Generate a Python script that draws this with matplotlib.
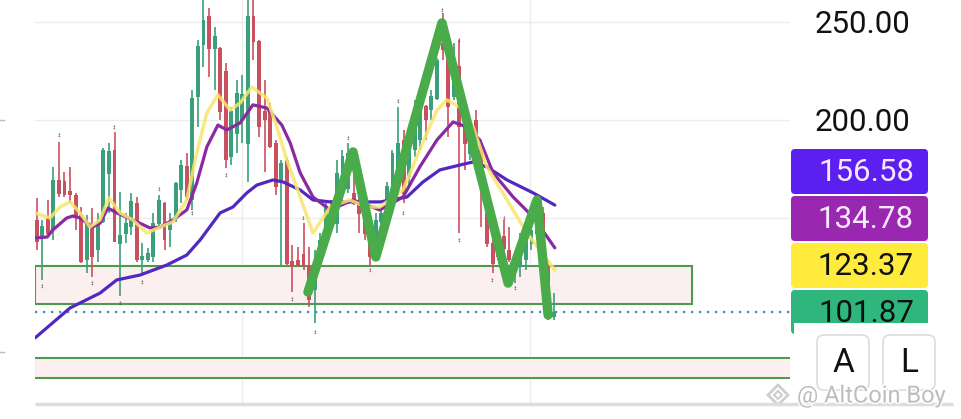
import numpy as np
import matplotlib
matplotlib.use("Agg")
import matplotlib.pyplot as plt
from matplotlib.patches import Rectangle, FancyBboxPatch, RegularPolygon
import matplotlib.patheffects as pe

plt.rcParams['font.family'] = ['Roboto', 'DejaVu Sans']

# candles (index 0 = leftmost)
opens = [149.0, 140.5, 149.8, 143.9, 169.4, 168.5, 163.4, 161.7, 151.5, 128.6,
         145.6, 133.7, 148.1, 172.8, 184.7, 137.1, 142.2, 145.6, 157.5, 128.6,
         128.9, 130.3, 147.3, 157.5, 143.9, 149.8, 164.3, 176.2, 159.2, 211.9,
         238.3, 252.7, 236.6, 236.6, 224.7, 181.3, 193.2, 200.0, 188.1, 252.7,
         240.0, 204.3, 204.3, 188.1, 169.4, 179.6, 127.7, 128.6, 131.2, 125.2,
         113.3, 127.7, 145.6, 155.8, 147.3, 166.0, 165.0, 162.6, 159.2, 152.4,
         137.1, 135.4, 148.1, 158.3, 162.6, 166.0, 189.8, 171.1, 184.7, 189.8,
         206.8, 205.1, 211.1, 239.1, 232.3, 211.9, 227.2, 198.3, 183.0, 200.0,
         188.1, 152.4, 137.1, 138.8, 140.5, 133.7, 122.6, 125.2, 128.6, 137.1,
         142.2, 152.4, 125.2, 99.7]
highs = [160.0, 149.0, 159.2, 176.2, 189.0, 173.6, 176.2, 162.6, 155.8, 151.5,
         154.9, 152.4, 185.5, 188.1, 194.0, 163.4, 152.4, 162.6, 160.9, 137.1,
         134.5, 152.4, 161.7, 158.3, 152.4, 168.5, 179.6, 183.0, 215.3, 240.8,
         262.0, 257.0, 247.6, 237.4, 228.9, 206.8, 220.4, 223.0, 262.0, 262.0,
         240.8, 220.4, 208.5, 189.8, 179.6, 180.5, 136.3, 135.4, 147.3, 135.4,
         133.7, 142.2, 157.5, 159.2, 179.6, 184.7, 188.1, 176.2, 160.0, 155.8,
         142.2, 152.4, 155.8, 168.5, 184.7, 206.8, 194.9, 191.5, 210.2, 208.5,
         207.8, 215.3, 231.5, 254.4, 235.7, 239.1, 240.8, 199.0, 193.2, 205.1,
         189.8, 159.2, 142.2, 142.2, 149.0, 145.6, 130.3, 142.2, 145.6, 145.6,
         159.2, 155.8, 128.6, 111.6]
lows = [133.7, 118.4, 140.5, 138.8, 160.9, 160.9, 157.5, 143.9, 126.9, 121.8,
        120.1, 127.7, 147.3, 152.4, 141.3, 110.0, 137.1, 141.3, 127.7, 121.8,
        127.7, 127.7, 145.6, 133.7, 135.4, 148.1, 157.5, 159.2, 154.1, 196.6,
        227.2, 222.1, 215.3, 200.0, 175.3, 177.0, 183.0, 188.1, 168.5, 230.6,
        191.5, 173.6, 185.6, 161.7, 126.0, 126.0, 112.4, 125.2, 123.5, 104.8,
        96.3, 126.9, 142.2, 142.2, 142.2, 159.2, 162.6, 156.5, 142.2, 138.8,
        125.2, 132.0, 145.6, 157.5, 157.5, 164.5, 157.5, 166.0, 181.3, 184.7,
        189.8, 200.0, 210.2, 230.6, 191.5, 210.2, 142.2, 174.5, 179.6, 179.6,
        145.6, 135.4, 121.8, 128.6, 132.0, 127.5, 116.7, 120.1, 123.5, 133.7,
        138.8, 125.2, 98.0, 98.0]
closes = [138.0, 145.6, 142.2, 169.4, 162.6, 161.7, 161.7, 150.7, 127.7, 147.3,
          130.3, 148.1, 184.7, 183.8, 138.0, 141.3, 147.3, 158.3, 128.6, 130.3,
          132.0, 147.3, 159.2, 138.8, 148.1, 167.7, 177.0, 160.9, 211.1, 237.4,
          251.0, 236.6, 242.5, 204.3, 179.6, 204.3, 213.6, 212.8, 252.7, 240.0,
          196.6, 200.0, 186.4, 166.0, 177.9, 126.9, 125.2, 126.0, 126.0, 108.2,
          126.9, 138.8, 155.8, 147.3, 172.8, 181.3, 183.0, 157.5, 152.4, 142.2,
          130.3, 149.0, 152.4, 166.0, 183.0, 188.1, 162.6, 189.8, 196.6, 205.1,
          200.0, 211.9, 230.6, 235.7, 206.8, 222.1, 196.6, 188.1, 191.5, 188.1,
          176.2, 137.1, 126.9, 130.3, 134.5, 128.6, 128.6, 138.0, 142.2, 143.9,
          155.8, 128.6, 101.5, 101.87]

# moving averages traced as (candle index, price)
ma_fast_x = [-0.3, 2.4, 4.2, 6.0, 7.8, 9.6, 11.4, 13.0, 15.0, 17.3, 19.8, 22.2, 24.5,
             27.0, 28.8, 30.6, 32.6, 34.8, 36.6, 38.7, 41.4, 43.2, 45.0, 47.4, 49.7,
             52.8, 56.3, 59.4, 61.7, 65.9, 68.9, 72.0, 73.8, 76.1, 78.5, 81.0, 84.6,
             88.2, 93.2]
ma_fast_y = [152.6, 150.0, 155.6, 158.2, 152.6, 145.4, 149.0, 160.2, 152.6, 149.0, 142.3,
             145.4, 148.0, 159.2, 183.2, 203.6, 212.8, 205.1, 208.7, 216.8, 211.2, 196.4,
             179.6, 160.7, 142.3, 155.6, 159.2, 155.6, 155.6, 164.3, 184.7, 205.1, 210.2,
             206.6, 196.4, 176.0, 159.2, 142.3, 123.37]
ma_mid_x = [-0.3, 1.9, 2.9, 5.4, 6.5, 7.8, 10.1, 11.4, 12.8, 14.4, 17.3, 20.4, 22.2,
            24.5, 27.0, 28.8, 30.6, 32.6, 34.2, 36.6, 38.9, 41.4, 44.1, 45.6, 47.4,
            49.7, 52.8, 56.9, 61.7, 65.9, 68.9, 72.0, 74.9, 77.4, 79.7, 82.1, 85.7,
            89.3, 93.2]
ma_mid_y = [139.8, 140.3, 143.9, 150.0, 151.0, 150.0, 145.4, 147.4, 155.1, 152.6, 149.0,
            144.9, 145.4, 149.0, 154.1, 167.9, 186.2, 197.4, 194.9, 198.5, 207.7, 206.1,
            197.4, 188.3, 173.0, 160.7, 154.1, 159.2, 154.1, 160.7, 176.0, 189.8, 199.0,
            196.4, 189.8, 173.0, 160.7, 150.5, 134.78]
ma_slow_x = [-0.3, 6.0, 11.4, 14.4, 18.6, 23.4, 27.0, 29.4, 33.0, 35.3, 37.8, 39.6,
             42.5, 44.3, 47.4, 49.7, 52.8, 55.8, 61.8, 66.6, 69.5, 72.5, 76.1, 78.5,
             81.0, 84.6, 89.3, 93.2]
ma_slow_y = [88.8, 104.1, 111.7, 118.4, 120.9, 126.0, 131.1, 138.8, 152.6, 155.6, 162.8,
             166.8, 169.4, 168.4, 164.3, 159.2, 158.2, 158.2, 158.2, 160.7, 168.4, 174.5,
             177.0, 178.6, 176.0, 169.4, 162.8, 156.58]

# hand-drawn zigzag
zig_x = [48.8, 56.9, 61.0, 72.9, 84.8, 90.0, 92.0]
zig_y = [112.2, 183.7, 130.1, 249.5, 116.8, 159.2, 100.5]

# tiny high/low markers
mark_x = [4, 14, 1, 10, 15, 19, 22, 28, 34, 46, 48, 50, 56, 60, 65, 66, 73, 76, 76, 82, 84, 86]
mark_y = [192.3, 196.6, 115.5, 117.0, 106.5, 117.5, 164.6, 152.4, 171.9, 108.7, 149.8,
          92.0, 190.6, 123.5, 209.4, 152.7, 256.0, 240.5, 138.8, 118.4, 149.8, 114.1]

zone1 = (106.1, 125.5)
zone2 = (68.4, 78.6)
last_price = 101.87
ma_labels = ['156.58', '134.78', '123.37', '101.87']
ma_box_colors = ['#5b1ff0', '#9a27b0', '#ffeb3b', '#2fb67c']
ma_text_colors = ['#f6e9fb', '#f6e9fb', '#111111', '#111111']
yticks = [200, 250]

fig = plt.figure(figsize=(9.61, 4.19), dpi=100)
ax = fig.add_axes([35 / 961, 14 / 419, 755 / 961, 405 / 419])
ax.set_xlim(-0.3, 135.5)
ax.set_ylim(54.6, 261.2)

for g in [150, 200, 250]:
    ax.axhline(g, color='#ececec', lw=1.0, zorder=0)
for g in [36.9, 88.7]:
    ax.axvline(g, color='#ececec', lw=1.0, zorder=0)

# support zones
ax.add_patch(Rectangle((-0.3, zone1[0]), 118.2, zone1[1] - zone1[0], facecolor='#fcefef',
                       edgecolor='#4e9a4e', lw=1.5, zorder=1))
ax.add_patch(Rectangle((-0.5, zone2[0]), 137, zone2[1] - zone2[0], facecolor='#fcefef',
                       edgecolor='#4e9a4e', lw=1.5, zorder=1, clip_on=True))
ax.axhline(last_price, color='#3b8fb0', lw=1.6, ls=(0, (1, 2.6)), zorder=1)

o = np.array(opens)
c = np.array(closes)
idx = np.arange(len(o))
up = c >= o
cols = np.where(up, '#3a9f7a', '#c9505f')
ax.vlines(idx, lows, highs, colors=cols, lw=1.2, zorder=2)
ax.bar(idx, np.abs(c - o) + 0.4, bottom=np.minimum(o, c) - 0.2, width=0.7, color=cols, zorder=3)

for mx, my in zip(mark_x, mark_y):
    ax.text(mx, my, '‡', fontsize=3.5, color='#555555', ha='center', va='center', zorder=3,
            family='DejaVu Sans')

ax.plot(ma_slow_x, ma_slow_y, color='#5128c0', lw=2.3, zorder=4, solid_capstyle='round')
ax.plot(ma_mid_x, ma_mid_y, color='#8a2aa0', lw=2.3, zorder=4, solid_capstyle='round')
ax.plot(ma_fast_x, ma_fast_y, color='#f7e66e', lw=2.5, alpha=0.85, zorder=4, solid_capstyle='round')

ax.plot(zig_x, zig_y, color='#49ab49', lw=6.8, zorder=5, solid_joinstyle='round',
        solid_capstyle='round')

ax.yaxis.tick_right()
ax.set_yticks(yticks)
ax.set_yticklabels([f'{v:.2f}' for v in yticks])
ax.tick_params(axis='y', length=0, pad=18, labelsize=22.5, labelcolor='#111111')
ax.set_xticks([])
for s in ax.spines.values():
    s.set_visible(False)

# overlay in pixel coordinates for the price tags and buttons
ov = fig.add_axes([0, 0, 1, 1])
ov.set_xlim(0, 961)
ov.set_ylim(419, 0)
ov.axis('off')

tops = [148, 195, 242, 289]
heights = [47, 47, 47, 46]
for lab, fc, tc, t, h in zip(ma_labels, ma_box_colors, ma_text_colors, tops, heights):
    ov.add_patch(FancyBboxPatch((791, t + 1), 137, h - 2,
                                boxstyle='round,pad=0,rounding_size=4', fc=fc, ec='none'))
    ov.text(914, t + h / 2 + 1, lab, ha='right', va='center', fontsize=22.5, color=tc)

ov.add_patch(Rectangle((794, 323), 167, 96, fc='white', ec='none'))
ov.plot([35, 953], [404, 404], color='#dddddd', lw=2.5, solid_capstyle='butt')

for bx, letter in [(817, 'A'), (883, 'L')]:
    ov.add_patch(FancyBboxPatch((bx, 335), 52, 55, boxstyle='round,pad=0,rounding_size=7',
                                fc='white', ec='#dcdcdc', lw=1.2))
    ov.text(bx + 26, 363, letter, ha='center', va='center', fontsize=24, color='#111111')

ov.add_patch(RegularPolygon((778, 395), 4, radius=10, fill=False, ec='#cfcfcf', lw=2))
ov.add_patch(RegularPolygon((778, 395), 4, radius=4, fill=False, ec='#cfcfcf', lw=1.5))
ov.text(797, 396, '@ AltCoin Boy', ha='left', va='center', fontsize=17, color='#bdbdbd',
        path_effects=[pe.withStroke(linewidth=2, foreground='white')])

# small marks at the left edge
ov.plot([0, 4], [120, 120], color='#bbbbbb', lw=1)
ov.plot([0, 4], [352, 352], color='#bbbbbb', lw=1)

fig.savefig('out.png', dpi=100)
